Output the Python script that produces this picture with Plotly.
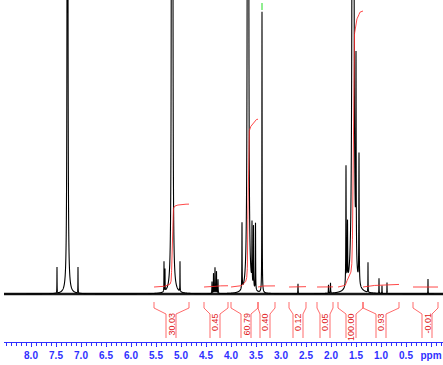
import numpy as np
import plotly.graph_objects as go

# ---- data (ppm, height above baseline, half-width in ppm)
peak_ppm = [7.48, 7.27, 7.06,
            5.34, 5.32, 5.185, 5.17, 5.02,
            4.38, 4.35, 4.32, 4.29, 4.26,
            3.78, 3.665, 3.655, 3.58, 3.55, 3.51,
            3.38, 2.66, 2.05, 2.01,
            1.70, 1.67, 1.565, 1.555, 1.50, 1.44,
            1.26, 1.04, 0.98, 0.88, 0.06]
peak_height = [26, 2500, 26,
               30, 22, 2000, 2000, 30,
               12, 20, 26, 22, 14,
               66, 2500, 2500, 60, 62, 68,
               281, 10, 8, 10,
               120, 60, 3000, 3000, 200, 130,
               30, 15, 8, 11, 15]
peak_width = [0.002, 0.004, 0.002,
              0.002, 0.002, 0.004, 0.004, 0.002,
              0.003, 0.003, 0.003, 0.003, 0.003,
              0.003, 0.004, 0.004, 0.003, 0.003, 0.003,
              0.003, 0.003, 0.003, 0.003,
              0.004, 0.004, 0.005, 0.005, 0.004, 0.004,
              0.002, 0.002, 0.002, 0.002, 0.002]

# integral regions: left edge, right edge, label centre (ppm), value
int_left = [5.54, 4.54, 4.00, 3.46, 2.84, 2.28, 1.86, 1.36, 0.36]
int_right = [4.84, 4.06, 3.46, 3.12, 2.50, 1.96, 1.36, 0.64, -0.14]
int_center = [5.20, 4.32, 3.70, 3.32, 2.66, 2.12, 1.60, 1.00, 0.08]
int_value = [30.03, 0.45, 60.79, 0.40, 0.12, 0.05, 100.00, 0.93, -0.01]
int_label = ["30.03", "0.45", "60.79", "0.40", "0.12", "0.05", "100.00", "0.93", "-0.01"]

tick_vals = [8.0, 7.5, 7.0, 6.5, 6.0, 5.5, 5.0, 4.5, 4.0, 3.5, 3.0, 2.5, 2.0, 1.5, 1.0, 0.5, 0.0]
tick_text = ["8.0", "7.5", "7.0", "6.5", "6.0", "5.5", "5.0", "4.5", "4.0", "3.5", "3.0",
             "2.5", "2.0", "1.5", "1.0", "0.5", "ppm"]

marker_ppm = [3.38, 3.38]
marker_y = [291, 284]

baseline_ppm = [8.6, -0.3]
baseline_y = [0, 0]

# ---- build spectrum
ppm = np.arange(8.6, -0.3, -0.0008)
spec = np.zeros_like(ppm)
for p, h, w in zip(peak_ppm, peak_height, peak_width):
    spec += h / (1 + ((ppm - p) / w) ** 2)
spec_draw = np.minimum(spec, 330)  # off-scale peaks just run past the top edge

BLUE = "#2f2fff"
fig = go.Figure()
fig.add_trace(go.Scatter(x=baseline_ppm, y=baseline_y, mode="lines",
                         line=dict(color="#1a1a1a", width=2.4), hoverinfo="skip"))
fig.add_trace(go.Scatter(x=ppm, y=spec_draw, mode="lines",
                         line=dict(color="black", width=1.1, simplify=False), hoverinfo="skip"))

scale = 2.76
offset = 7
for L, R, c, v, lab in zip(int_left, int_right, int_center, int_value, int_label):
    m = (ppm <= L) & (ppm >= R)
    xs = ppm[m]
    cum = np.cumsum(spec[m])
    ys = offset + cum / cum[-1] * v * scale
    fig.add_trace(go.Scatter(x=xs, y=ys, mode="lines",
                             line=dict(color="rgba(255,40,40,0.85)", width=1), hoverinfo="skip"))
    d = 0.1
    bx = [L, L, c + d, c + d, None, R, R, c - d, c - d]
    by = [-8, -14, -20, -44, None, -8, -14, -20, -44]
    fig.add_trace(go.Scatter(x=bx, y=by, mode="lines",
                             line=dict(color="rgba(255,70,70,0.8)", width=1), hoverinfo="skip"))
    fig.add_annotation(x=c, y=-18, text=lab, textangle=-90, showarrow=False,
                       xanchor="center", yanchor="top", borderpad=0,
                       font=dict(family="Liberation Sans", size=9, color="#e01818"))

fig.add_trace(go.Scatter(x=marker_ppm, y=marker_y, mode="lines",
                         line=dict(color="#22dd22", width=1), hoverinfo="skip"))

fig.update_layout(
    width=443, height=365, showlegend=False,
    margin=dict(l=4, r=0, t=0, b=23),
    plot_bgcolor="white", paper_bgcolor="white",
    xaxis=dict(range=[8.54, -0.24], showgrid=False, zeroline=False,
               showline=True, linecolor=BLUE, linewidth=1,
               tickmode="array", tickvals=tick_vals, ticktext=tick_text,
               ticks="outside", ticklen=4, tickcolor=BLUE,
               tickfont=dict(family="Liberation Sans", size=10, color=BLUE, weight="bold"),
               minor=dict(tickmode="linear", tick0=0, dtick=0.1, ticks="outside",
                          ticklen=3, tickcolor=BLUE)),
    yaxis=dict(range=[-48, 294], visible=False),
)

fig.write_html("out.html")
